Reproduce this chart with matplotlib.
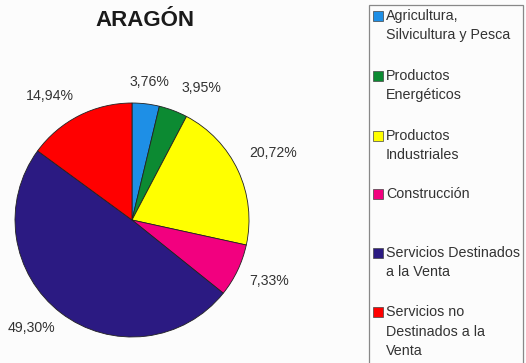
import matplotlib.pyplot as plt
from matplotlib.patches import Rectangle

plt.rcParams['font.family'] = ['Liberation Sans', 'DejaVu Sans']

# Sector shares for Aragón (%)
sectors = ["Agricultura,\nSilvicultura y Pesca", "Productos\nEnergéticos",
           "Productos\nIndustriales", "Construcción",
           "Servicios Destinados\na la Venta", "Servicios no\nDestinados a la\nVenta"]
shares = [3.76, 3.95, 20.72, 7.33, 49.30, 14.94]
colors = ["#1e8fe6", "#0c8a32", "#ffff00", "#f2007f", "#2b1a82", "#ff0000"]

# where each percentage label sits, relative to the pie (radius = 1)
label_pos = [(0.15, 1.18), (0.59, 1.13), (1.21, 0.57),
             (1.17, -0.52), (-0.86, -0.92), (-0.70, 1.06)]

W, H = 526, 363
fig = plt.figure(figsize=(W / 100, H / 100), dpi=100)
fig.patch.set_facecolor("#fcfcfc")

# pie centred at (132, 220) px with radius 117 px
cx, cy, r = 132, 220, 117
ax = fig.add_axes([(cx - r) / W, (H - cy - r) / H, 2 * r / W, 2 * r / H])
ax.pie(shares, colors=colors, startangle=90, counterclock=False, radius=1,
       wedgeprops=dict(edgecolor="#222222", linewidth=0.6))
ax.set_xlim(-1, 1)
ax.set_ylim(-1, 1)
ax.axis("off")

for val, (x, y) in zip(shares, label_pos):
    ax.text(x, y, f"{val:.2f}%".replace(".", ","), ha="center", va="center",
            fontsize=10.2, color="#333333")

fig.text(145 / W, 1 - 20 / H, "ARAGÓN", ha="center", va="center",
         fontsize=16, fontweight="bold", color="#1a1a1a")

# legend panel
fig.patches.append(Rectangle((369 / W, -0.05), (523 - 369) / W, 1.05 - 5 / H,
                             transform=fig.transFigure, facecolor="none",
                             edgecolor="#888888", linewidth=0.9))
item_y = [16, 76, 136, 194, 253, 312]
for name, col, y0 in zip(sectors, colors, item_y):
    fig.patches.append(Rectangle((373 / W, 1 - (y0 + 5) / H), 10 / W, 10 / H,
                                 transform=fig.transFigure, facecolor=col,
                                 edgecolor="#444444", linewidth=0.5))
    for i, line in enumerate(name.split("\n")):
        fig.text(386 / W, 1 - (y0 + 19.5 * i) / H, line, ha="left", va="center",
                 fontsize=10.3, color="#333333")

fig.savefig("out.png", dpi=100, facecolor=fig.get_facecolor())
